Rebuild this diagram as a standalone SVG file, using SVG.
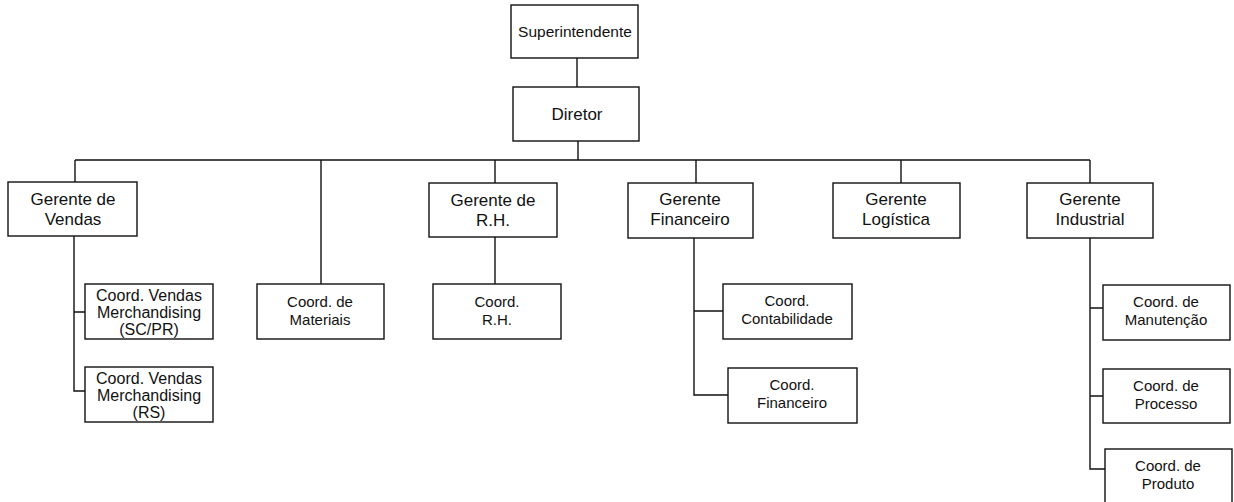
<svg xmlns="http://www.w3.org/2000/svg" width="1234" height="502" viewBox="0 0 1234 502">
  <style>
    .box { fill: #fff; stroke: #111; stroke-width: 1.4; }
    .wire { fill: none; stroke: #111; stroke-width: 1.4; }
    text { font-family: "Liberation Sans", Arial, sans-serif; fill: #111; text-anchor: middle; }
    .top { font-size: 15.5px; }
    .dir { font-size: 17px; }
    .mgr { font-size: 17px; }
    .crd { font-size: 15px; }
    .vnd { font-size: 16px; }
  </style>

  <!-- connectors -->
  <g id="connectors" class="wire">
    <path d="M577,58 V87"/>
    <path d="M578,141 V160"/>
    <path d="M75,160 H1090"/>
    <path d="M75,160 V182"/>
    <path d="M321,160 V284"/>
    <path d="M495,160 V183"/>
    <path d="M696,160 V183"/>
    <path d="M901,160 V183"/>
    <path d="M1090,160 V183"/>
    <!-- Vendas branch -->
    <path d="M74,236 V391 H85 M74,312 H85"/>
    <!-- R.H. branch -->
    <path d="M495,237 V284"/>
    <!-- Financeiro branch -->
    <path d="M694,238 V395 H728 M694,311 H723"/>
    <!-- Industrial branch -->
    <path d="M1090,238 V469 H1105 M1090,308 H1103 M1090,396 H1103"/>
  </g>

  <g id="superintendente">
    <rect class="box" x="511" y="5" width="127" height="53"/>
    <text class="top" x="575" y="37">Superintendente</text>
  </g>

  <g id="diretor">
    <rect class="box" x="513" y="87" width="126" height="54"/>
    <text class="dir" x="577" y="120">Diretor</text>
  </g>

  <g id="gerente-vendas">
    <rect class="box" x="8" y="182" width="129" height="54"/>
    <text class="mgr" x="73" y="205">Gerente de</text>
    <text class="mgr" x="73" y="225">Vendas</text>
  </g>

  <g id="gerente-rh">
    <rect class="box" x="429" y="183" width="128" height="54"/>
    <text class="mgr" x="493" y="206">Gerente de</text>
    <text class="mgr" x="493" y="226">R.H.</text>
  </g>

  <g id="gerente-financeiro">
    <rect class="box" x="628" y="183" width="125" height="55"/>
    <text class="mgr" x="690" y="205">Gerente</text>
    <text class="mgr" x="690" y="225">Financeiro</text>
  </g>

  <g id="gerente-logistica">
    <rect class="box" x="833" y="183" width="127" height="55"/>
    <text class="mgr" x="896" y="205">Gerente</text>
    <text class="mgr" x="896" y="225">Logística</text>
  </g>

  <g id="gerente-industrial">
    <rect class="box" x="1027" y="183" width="126" height="55"/>
    <text class="mgr" x="1090" y="205">Gerente</text>
    <text class="mgr" x="1090" y="225">Industrial</text>
  </g>

  <g id="coord-vendas-scpr">
    <rect class="box" x="85" y="284" width="128" height="55"/>
    <text class="vnd" x="149" y="301">Coord. Vendas</text>
    <text class="vnd" x="149" y="318">Merchandising</text>
    <text class="vnd" x="149" y="335">(SC/PR)</text>
  </g>

  <g id="coord-vendas-rs">
    <rect class="box" x="85" y="367" width="128" height="55"/>
    <text class="vnd" x="149" y="384">Coord. Vendas</text>
    <text class="vnd" x="149" y="401">Merchandising</text>
    <text class="vnd" x="149" y="418">(RS)</text>
  </g>

  <g id="coord-materiais">
    <rect class="box" x="257" y="284" width="127" height="55"/>
    <text class="crd" x="320" y="307">Coord. de</text>
    <text class="crd" x="320" y="325">Materiais</text>
  </g>

  <g id="coord-rh">
    <rect class="box" x="433" y="284" width="128" height="55"/>
    <text class="crd" x="497" y="307">Coord.</text>
    <text class="crd" x="497" y="325">R.H.</text>
  </g>

  <g id="coord-contabilidade">
    <rect class="box" x="723" y="284" width="129" height="55"/>
    <text class="crd" x="787" y="306">Coord.</text>
    <text class="crd" x="787" y="324">Contabilidade</text>
  </g>

  <g id="coord-financeiro">
    <rect class="box" x="728" y="368" width="129" height="55"/>
    <text class="crd" x="792" y="390">Coord.</text>
    <text class="crd" x="792" y="408">Financeiro</text>
  </g>

  <g id="coord-manutencao">
    <rect class="box" x="1103" y="285" width="127" height="55"/>
    <text class="crd" x="1166" y="307">Coord. de</text>
    <text class="crd" x="1166" y="325">Manutenção</text>
  </g>

  <g id="coord-processo">
    <rect class="box" x="1103" y="369" width="127" height="54"/>
    <text class="crd" x="1166" y="391">Coord. de</text>
    <text class="crd" x="1166" y="409">Processo</text>
  </g>

  <g id="coord-produto">
    <rect class="box" x="1105" y="449" width="127" height="54"/>
    <text class="crd" x="1168" y="471">Coord. de</text>
    <text class="crd" x="1168" y="489">Produto</text>
  </g>
</svg>
